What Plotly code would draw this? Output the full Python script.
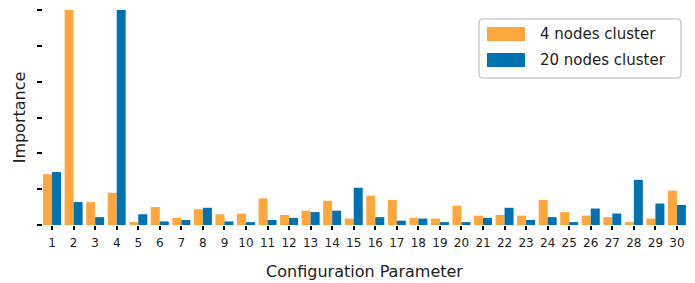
import plotly.graph_objects as go

params = list(range(1, 31))
tick_labels = [str(p) for p in params]
series_names = ["4 nodes cluster", "20 nodes cluster"]
four_nodes = [0.071, 0.300, 0.032, 0.045, 0.004, 0.025, 0.010, 0.022, 0.015, 0.016,
              0.037, 0.014, 0.020, 0.034, 0.009, 0.041, 0.035, 0.010, 0.009, 0.027,
              0.013, 0.014, 0.013, 0.035, 0.018, 0.013, 0.011, 0.004, 0.009, 0.048]
twenty_nodes = [0.074, 0.032, 0.011, 0.300, 0.015, 0.005, 0.007, 0.024, 0.005, 0.004,
                0.007, 0.010, 0.018, 0.020, 0.052, 0.011, 0.006, 0.009, 0.004, 0.004,
                0.010, 0.024, 0.007, 0.011, 0.004, 0.023, 0.016, 0.063, 0.030, 0.028]

ORANGE = "#FFA63D"
BLUE = "#0072B2"
FONT = "DejaVu Sans"

W, H = 695, 283
L, R, T, B = 43, 9, 10, 58
PW, PH = W - L - R, H - T - B


def px(x):
    return (x - L) / PW


def py(y):
    return (H - B - y) / PH


fig = go.Figure()
fig.add_trace(go.Bar(x=params, y=four_nodes, name=series_names[0],
                     marker=dict(color=ORANGE, line=dict(width=0))))
fig.add_trace(go.Bar(x=params, y=twenty_nodes, name=series_names[1],
                     marker=dict(color=BLUE, line=dict(width=0))))

# custom legend (wide swatches, rounded light-grey frame)
bx0, bx1, by0, by1, rr = 479, 681, 19, 78, 4
path = (f"M {px(bx0 + rr)},{py(by0)} L {px(bx1 - rr)},{py(by0)} "
        f"Q {px(bx1)},{py(by0)} {px(bx1)},{py(by0 + rr)} "
        f"L {px(bx1)},{py(by1 - rr)} Q {px(bx1)},{py(by1)} {px(bx1 - rr)},{py(by1)} "
        f"L {px(bx0 + rr)},{py(by1)} Q {px(bx0)},{py(by1)} {px(bx0)},{py(by1 - rr)} "
        f"L {px(bx0)},{py(by0 + rr)} Q {px(bx0)},{py(by0)} {px(bx0 + rr)},{py(by0)} Z")
shapes = [dict(type="path", xref="paper", yref="paper", path=path,
               fillcolor="rgba(255,255,255,0.85)", line=dict(color="#CCCCCC", width=1.5))]
annotations = []
for i, (name, col) in enumerate(zip(series_names, [ORANGE, BLUE])):
    ytop = 27 + i * 26
    shapes.append(dict(type="rect", xref="paper", yref="paper",
                       x0=px(487), x1=px(525), y0=py(ytop + 14), y1=py(ytop),
                       fillcolor=col, line=dict(width=0)))
    annotations.append(dict(xref="paper", yref="paper", x=px(538), y=py(ytop + 7),
                            xanchor="left", yanchor="middle", showarrow=False,
                            text=name, font=dict(size=15, family=FONT, color="#222")))

fig.update_layout(
    width=W, height=H,
    margin=dict(l=L, r=R, t=T, b=B),
    barmode="group", bargap=0.165, bargroupgap=0,
    plot_bgcolor="white", paper_bgcolor="white",
    font=dict(family=FONT, size=12, color="#222"),
    showlegend=False,
    shapes=shapes, annotations=annotations,
    xaxis=dict(range=[0.58, 30.42], tickmode="array", tickvals=params,
               ticktext=tick_labels, ticks="outside", ticklen=4, tickwidth=1.5,
               tickcolor="black", showgrid=False, zeroline=False, showline=False,
               tickfont=dict(size=12, family=FONT), automargin=False,
               ticklabelstandoff=3,
               title=dict(text="Configuration Parameter", font=dict(size=16, family=FONT),
                          standoff=16)),
    yaxis=dict(range=[0, 0.30], tickmode="linear", tick0=0, dtick=0.05,
               ticks="outside", ticklen=5, tickwidth=1.5, tickcolor="black",
               showticklabels=False, showgrid=False, zeroline=False, showline=False,
               automargin=False,
               title=dict(text="Importance", font=dict(size=16, family=FONT),
                          standoff=7)),
)

fig.write_html("out.html", config={"displayModeBar": False},
               post_script="document.body.style.margin='0';")
